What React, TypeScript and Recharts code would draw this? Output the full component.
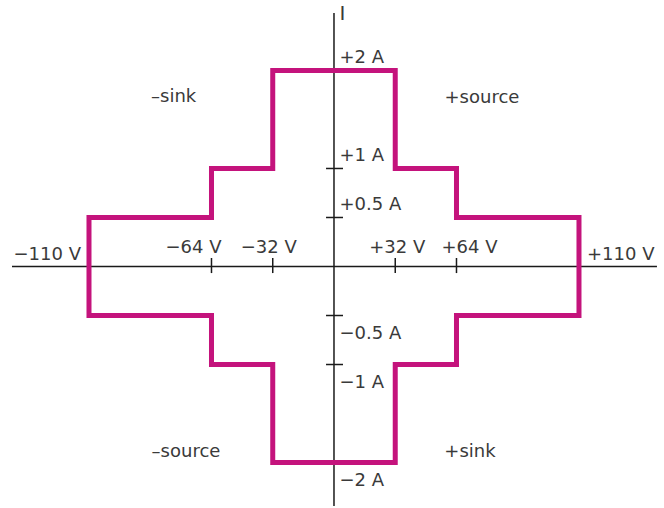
import { ComposedChart, Line, XAxis, YAxis, ReferenceLine, ReferenceDot } from 'recharts';

// Operating-region outline (volts, amps), clockwise from the top centre
const outlineVolts = [0, 32, 32, 64, 64, 110, 110, 64, 64, 32, 32, -32, -32, -64, -64, -110, -110, -64, -64, -32, -32, 0];
const outlineAmps = [2, 2, 1, 1, 0.5, 0.5, -0.5, -0.5, -1, -1, -2, -2, -1, -1, -0.5, -0.5, 0.5, 0.5, 1, 1, 2, 2];

const voltTicks = [-64, -32, 32, 64];
const voltLimits = [-110, 110];
const ampTicks = [1, 0.5, -0.5, -1];
const ampLimits = [2, -2];
const quadrantNames = ['–sink', '+source', '–source', '+sink'];

// the V axis is drawn broken: 0/32/64 V evenly spaced, 110 V further out
const voltBreaks = [0, 32, 64, 110];
const posBreaks = [0, 1, 2, 4];
const vPos = (v: number) => {
  const a = Math.abs(v);
  let i = 1;
  while (i < voltBreaks.length - 1 && a > voltBreaks[i]) i++;
  const t = (a - voltBreaks[i - 1]) / (voltBreaks[i] - voltBreaks[i - 1]);
  return Math.sign(v) * (posBreaks[i - 1] + t * (posBreaks[i] - posBreaks[i - 1]));
};

const outline = outlineVolts.map((v, i) => ({ x: vPos(v), y: outlineAmps[i] }));

// layout
const W = 664;
const H = 508;
const X_DOMAIN = [-5.453, 5.388];
const Y_DOMAIN = [-2.464, 2.719];
const X_AXIS = [-5.257, 5.273];
const Y_AXIS = [-2.444, 2.587];
const voltTickLabelDx = [-18, -4, 2, 13];
const quadrantPos = [
  { x: -2.617, y: 1.679 },
  { x: 2.416, y: 1.668 },
  { x: -2.416, y: -1.941 },
  { x: 2.22, y: -1.941 },
];

const MAGENTA = '#C4137C';
const INK = '#1a1a1a';
const TEXT = '#3a3a3a';
const FONT = '"DejaVu Sans", sans-serif';

const sign = (n: number) => (n < 0 ? '\u2212' : '+');
const fmtV = (v: number) => `${sign(v)}${Math.abs(v)} V`;
const fmtA = (a: number) => `${sign(a)}${Math.abs(a)} A`;

const textShape = (text: string, dx: number, dy: number, anchor = 'middle', size = 18) => (p: any) => (
  <text x={p.cx + dx} y={p.cy + dy} textAnchor={anchor} fontFamily={FONT} fontSize={size} fill={TEXT}>
    {text}
  </text>
);

export default function App() {
  return (
    <div style={{ position: 'absolute', left: 0, top: 0, width: W, height: H, background: '#fff' }}>
      <ComposedChart width={W} height={H} margin={{ top: 0, right: 0, bottom: 0, left: 0 }}>
        <XAxis type="number" dataKey="x" domain={X_DOMAIN} allowDataOverflow hide />
        <YAxis type="number" dataKey="y" domain={Y_DOMAIN} allowDataOverflow hide />

        {/* axes through the origin */}
        <ReferenceLine segment={[{ x: X_AXIS[0], y: 0 }, { x: X_AXIS[1], y: 0 }]} stroke={INK} strokeWidth={1.5} />
        <ReferenceLine segment={[{ x: 0, y: Y_AXIS[0] }, { x: 0, y: Y_AXIS[1] }]} stroke={INK} strokeWidth={1.5} />

        {voltTicks.map((v) => (
          <ReferenceLine key={`vt${v}`} segment={[{ x: vPos(v), y: -0.067 }, { x: vPos(v), y: 0.087 }]} stroke={INK} strokeWidth={1.5} />
        ))}
        {ampTicks.map((a) => (
          <ReferenceLine key={`at${a}`} segment={[{ x: -0.13, y: a }, { x: 0.147, y: a }]} stroke={INK} strokeWidth={1.5} />
        ))}

        <Line
          data={outline}
          dataKey="y"
          type="linear"
          stroke={MAGENTA}
          strokeWidth={5}
          strokeLinejoin="miter"
          dot={false}
          activeDot={false}
          isAnimationActive={false}
        />

        {voltTicks.map((v, i) => (
          <ReferenceDot key={`vl${v}`} x={vPos(v)} y={0} r={1} shape={textShape(fmtV(v), voltTickLabelDx[i], -13.5)} />
        ))}
        {voltLimits.map((v) => (
          <ReferenceDot
            key={`vlim${v}`}
            x={vPos(v)}
            y={0}
            r={1}
            shape={textShape(fmtV(v), v < 0 ? -8 : 8, -6.5, v < 0 ? 'end' : 'start')}
          />
        ))}
        {[...ampLimits, ...ampTicks].map((a) => (
          <ReferenceDot key={`al${a}`} x={0} y={a} r={1} shape={textShape(fmtA(a), 5.5, a > 0 ? -7.5 : 23, 'start')} />
        ))}
        <ReferenceDot x={0} y={Y_AXIS[1]} r={1} shape={textShape('I', 5.5, 7, 'start', 20)} />

        {quadrantNames.map((q, i) => (
          <ReferenceDot key={q} x={quadrantPos[i].x} y={quadrantPos[i].y} r={1} shape={textShape(q, 0, 0)} />
        ))}
      </ComposedChart>
    </div>
  );
}
